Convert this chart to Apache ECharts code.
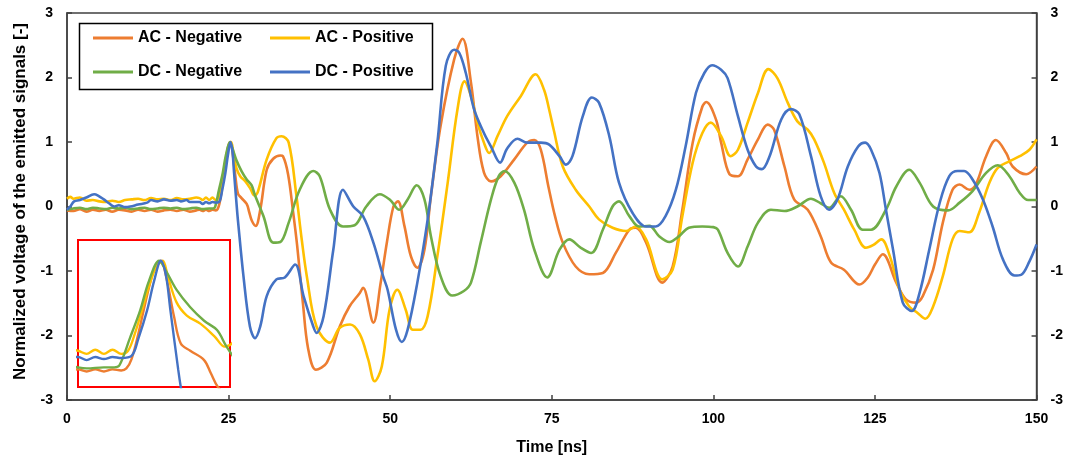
<!DOCTYPE html>
<html>
<head>
<meta charset="utf-8">
<script src="https://cdn.jsdelivr.net/npm/echarts@6/dist/echarts.min.js"></script>
<style>html,body{margin:0;padding:0;background:#fff}#c{width:1066px;height:461px}</style>
</head>
<body>
<div id="c"></div>
<script>
var seriesNames = ['AC - Negative', 'AC - Positive', 'DC - Negative', 'DC - Positive'];
var xTicks = [0, 25, 50, 75, 100, 125, 150];
var yTicks = [-3, -2, -1, 0, 1, 2, 3];

var acNegT = [0,1,2,3,4,5,6,7,8,9,10,11,12,13,14,15,16,17,18,19,20,20.5,21,21.5,22,22.5,23,23.3,23.6,24.0,24.3,24.7,25.0,25.3,25.6,26.06,26.45,27.0,27.8,28.2,28.6,29.2,29.9,30.9,31.9,33.0,33.4,34.2,35.0,35.6,36.5,37.3,38.5,40.2,42.2,43.7,45.3,45.8,47.4,48.5,49.5,50.5,51.2,52.2,53.2,54.2,55.3,56.3,57.8,59.9,61.2,62.5,63.5,64.5,65.6,67.1,69.2,71.2,72.3,73.3,74.5,75.5,76.7,78.7,80.8,82.9,84.9,87.0,88.0,89.6,92.1,93.7,95.2,96.8,98.3,98.9,100.4,101.2,102.5,103.8,105.3,106.9,108.4,109.4,111.0,112.5,114.6,116.6,118.2,120.2,122.6,123.9,125.0,126.2,128.3,129.8,131.4,132.4,134.0,135.5,137.0,138.1,139.6,140.6,142.2,143.7,145.3,146.3,148.4,150];
var acNegV = [-0.06,-0.07,-0.04,-0.08,-0.05,-0.07,-0.05,-0.08,-0.05,-0.06,-0.08,-0.05,-0.07,-0.05,-0.08,-0.06,-0.05,-0.07,-0.05,-0.08,-0.06,-0.05,-0.07,-0.05,-0.07,-0.05,-0.06,-0.04,0.05,0.3,0.52,0.8,0.95,1.0,0.85,0.46,0.2,0.13,0.04,-0.09,-0.22,-0.30,-0.05,0.57,0.74,0.79,0.78,0.5,-0.1,-0.6,-1.5,-2.2,-2.53,-2.42,-1.86,-1.55,-1.34,-1.26,-1.80,-1.2,-0.55,0.0,0.08,-0.3,-0.77,-0.95,-0.67,0.16,1.25,2.28,2.60,1.92,1.09,0.53,0.39,0.47,0.73,0.99,1.03,0.88,0.3,-0.15,-0.56,-0.93,-1.05,-1.03,-0.72,-0.36,-0.33,-0.56,-1.18,-0.93,-0.05,0.99,1.55,1.62,1.35,0.99,0.50,0.47,0.73,1.04,1.27,1.19,0.62,0.11,-0.05,-0.46,-0.87,-0.98,-1.21,-1.1,-0.9,-0.74,-1.18,-1.44,-1.49,-1.39,-0.98,-0.25,0.26,0.34,0.26,0.34,0.78,1.03,0.83,0.62,0.50,0.62];

var acPosT = [0,0.5,1,2,3,4,5,6,7,8,9,10,11,12,13,14,15,16,17,18,19,20,20.5,21,21.5,22,22.5,23,23.4,23.8,24.2,24.6,25.0,25.4,25.7,26.2,26.8,27.6,28.4,29.0,29.5,30.9,32.4,33.2,34.3,35.5,36.3,37.1,38.6,40.7,42.2,43.8,45.3,46.6,47.6,48.7,49.9,51.1,52.4,53.5,54.7,55.8,57.3,58.9,60.4,61.5,62.5,63.5,64.5,65.3,66.6,68.1,70.2,72.5,73.8,74.6,75.3,76.7,78.7,80.8,82.3,84.4,86.5,88.0,89.6,92.1,93.7,95.2,96.8,98.3,99.6,101.2,102.7,103.8,105.3,106.9,108.5,109.9,111.5,113.0,114.6,115.6,117.1,118.7,120.2,121.8,123.6,124.7,126.0,127.3,128.8,130.3,131.6,132.8,134.0,135.5,137.0,138.1,139.6,141.1,142.7,144.0,145.8,147.4,148.9,150];
var acPosV = [0.12,0.15,0.12,0.14,0.09,0.1,0.08,0.07,0.09,0.07,0.1,0.11,0.12,0.1,0.13,0.11,0.12,0.1,0.13,0.11,0.12,0.14,0.13,0.1,0.14,0.1,0.14,0.1,0.13,0.3,0.52,0.75,0.93,1.0,0.85,0.6,0.47,0.39,0.27,0.17,0.22,0.73,1.06,1.09,0.99,0.16,-0.5,-1.08,-1.86,-2.11,-1.88,-1.83,-1.98,-2.37,-2.71,-2.48,-1.60,-1.29,-1.60,-1.91,-1.91,-1.70,-0.77,0.37,1.50,1.94,1.71,1.30,0.99,0.83,1.09,1.40,1.71,2.05,1.81,1.50,1.19,0.62,0.26,0.0,-0.20,-0.33,-0.38,-0.31,-0.51,-1.13,-0.98,-0.15,0.68,1.14,1.30,1.09,0.78,0.88,1.30,1.76,2.13,1.99,1.61,1.32,1.19,1.04,0.68,0.21,-0.05,-0.36,-0.64,-0.6,-0.51,-0.77,-1.29,-1.55,-1.65,-1.74,-1.55,-1.08,-0.51,-0.38,-0.40,-0.10,0.37,0.60,0.70,0.78,0.88,1.04];

var dcNegT = [0,1,2,3,4,5,6,7,8,9,10,11,12,13,14,15,16,17,18,19,20,21,22,22.6,22.9,23.5,24.1,24.6,25.2,25.6,26.2,27.0,27.8,28.55,29.1,30.4,31.9,33.0,34.3,36.0,38.1,39.1,40.7,42.7,44.5,46.3,48.4,50.0,51.4,52.7,54.1,55.3,56.3,57.8,59.6,61.4,62.5,64.0,65.6,66.8,67.7,69.2,70.7,72.3,74.3,76.2,77.7,79.5,81.1,82.9,84.4,85.4,87.0,88.5,90.1,91.6,93.2,94.7,96.2,98.3,100.0,100.7,102.2,103.8,105.3,106.9,108.9,111.0,113.0,115.1,116.6,117.9,119.7,121.3,123.1,124.4,126.7,128.3,130.3,131.9,134.0,136.3,138.1,140.1,142.2,144.0,145.8,147.4,148.7,150];
var dcNegV = [-0.05,-0.03,-0.02,-0.04,-0.02,-0.03,-0.04,-0.02,-0.03,-0.02,-0.04,-0.03,-0.02,-0.04,-0.03,-0.02,-0.03,-0.02,-0.04,-0.03,-0.02,-0.04,-0.03,-0.03,-0.01,0.25,0.52,0.8,1.0,0.9,0.72,0.55,0.42,0.33,0.17,-0.15,-0.56,-0.55,-0.25,0.26,0.55,0.47,-0.05,-0.31,-0.29,0.0,0.19,0.1,-0.05,0.11,0.33,0.11,-0.46,-1.08,-1.38,-1.31,-1.18,-0.56,0.11,0.47,0.55,0.37,-0.05,-0.67,-1.1,-0.67,-0.51,-0.64,-0.72,-0.36,0.0,0.08,-0.15,-0.31,-0.30,-0.46,-0.55,-0.46,-0.33,-0.31,-0.32,-0.36,-0.72,-0.93,-0.62,-0.25,-0.05,-0.07,0.0,0.12,0.05,-0.02,0.16,-0.05,-0.36,-0.36,-0.05,0.31,0.57,0.37,0.0,-0.06,0.06,0.24,0.52,0.64,0.47,0.21,0.10,0.10];

var dcPosT = [0,0.5,1.1,2,3,4.2,4.8,5.7,6.5,7.3,8,9,9.8,11,12.4,13,14,15,16,17,17.6,18.5,19,20.1,20.5,21,21.5,22,22.5,23,23.6,24.0,24.5,24.9,25.3,25.6,25.85,26.3,26.45,27.3,28.3,29.1,29.9,30.9,32.4,33.7,35.3,36.6,38.1,38.6,39.7,41.2,42.7,44.3,45.8,47.4,48.9,49.6,50.9,51.8,52.7,54.2,55.8,57.3,58.6,59.9,60.7,61.7,63.0,64.5,65.6,67.0,68.1,69.7,71.2,73.3,74.6,76.2,77.2,78.2,79.8,81.2,82.3,83.9,85.4,87.5,89.6,91.1,92.6,94.2,95.7,97.3,98.6,99.8,101.2,102.2,103.8,105.3,106.6,107.5,108.7,110.5,112.0,113.3,115.1,116.6,117.9,119.2,120.8,122.4,123.5,124.4,125.7,126.7,127.8,129.3,130.7,131.9,133.4,135.0,136.5,137.8,138.8,140.1,141.7,143.2,144.8,146.6,147.6,148.9,150];
var dcPosV = [-0.05,0.0,0.08,0.1,0.14,0.19,0.17,0.11,0.05,0.0,0.02,-0.01,0.0,0.03,0.06,0.1,0.08,0.11,0.09,0.1,0.08,0.1,0.07,0.07,0.07,0.04,0.07,0.05,0.07,0.06,0.08,0.25,0.52,0.8,1.0,0.85,0.52,-0.05,-0.22,-1.08,-1.86,-2.04,-1.86,-1.39,-1.13,-1.10,-0.90,-1.39,-1.86,-1.96,-1.70,-0.67,0.26,0.0,-0.15,-0.56,-1.08,-1.29,-1.91,-2.10,-1.91,-1.18,-0.20,0.99,2.18,2.43,2.38,2.07,1.50,1.14,0.93,0.68,0.90,1.05,0.99,0.99,0.96,0.78,0.65,0.78,1.40,1.69,1.61,1.09,0.37,-0.10,-0.31,-0.31,-0.15,0.26,0.93,1.76,2.07,2.19,2.12,1.99,1.40,0.88,0.62,0.58,0.78,1.35,1.51,1.43,0.78,0.16,-0.05,0.11,0.62,0.93,0.99,0.88,0.52,-0.05,-0.67,-1.49,-1.62,-1.34,-0.67,0.05,0.47,0.55,0.55,0.42,0.11,-0.31,-0.82,-1.07,-1.06,-0.85,-0.59];

var colors = ['#ED7D31', '#FFC000', '#70AD47', '#4472C4'];

function pairs(t, v) { return t.map(function (x, i) { return [x, v[i]]; }); }
var dataSets = [pairs(acNegT, acNegV), pairs(acPosT, acPosV), pairs(dcNegT, dcNegV), pairs(dcPosT, dcPosV)];

var FONT = 'Liberation Sans, Arial, sans-serif';
var axisCol = '#404040';

var series = [];
dataSets.forEach(function (d, i) {
  series.push({
    name: seriesNames[i], type: 'line', xAxisIndex: 0, yAxisIndex: 0,
    data: d, showSymbol: false, smooth: 0.35,
    lineStyle: { color: colors[i], width: 2.6 }, itemStyle: { color: colors[i] },
    z: 3
  });
});
dataSets.forEach(function (d, i) {
  series.push({
    name: seriesNames[i], type: 'line', xAxisIndex: 1, yAxisIndex: 2,
    data: d, showSymbol: false, smooth: 0.35, clip: true,
    lineStyle: { color: colors[i], width: 2.4 }, itemStyle: { color: colors[i] },
    z: 4
  });
});

var legendText = { fontFamily: FONT, fontWeight: 'bold', fontSize: 16, color: '#000' };

var option = {
  animation: false,
  backgroundColor: '#fff',
  grid: [
    { left: 67, right: 28, top: 13, bottom: 61, show: true, borderColor: axisCol, borderWidth: 1.5 },
    { left: 78, top: 240, width: 152, height: 147, show: true, borderColor: '#FF0000', borderWidth: 2, backgroundColor: '#fff', z: 3 }
  ],
  legend: [
    { data: [seriesNames[0], seriesNames[2]], orient: 'vertical', left: 93, top: 30, padding: 0, itemWidth: 40, itemHeight: 3, itemGap: 18, icon: 'rect', textStyle: legendText },
    { data: [seriesNames[1], seriesNames[3]], orient: 'vertical', left: 270, top: 30, padding: 0, itemWidth: 40, itemHeight: 3, itemGap: 18, icon: 'rect', textStyle: legendText }
  ],
  xAxis: [
    {
      type: 'value', gridIndex: 0, min: xTicks[0], max: xTicks[xTicks.length - 1], interval: 25,
      name: 'Time [ns]', nameLocation: 'middle', nameGap: 40,
      nameTextStyle: { fontFamily: FONT, fontWeight: 'bold', fontSize: 16, color: '#000' },
      axisLine: { onZero: false, lineStyle: { color: axisCol, width: 1.5 } },
      axisTick: { inside: true, length: 5, lineStyle: { color: axisCol, width: 1.5 } },
      axisLabel: { margin: 12, fontFamily: FONT, fontWeight: 'bold', fontSize: 14, color: '#000' },
      splitLine: { show: false }
    },
    { type: 'value', gridIndex: 1, min: 20.5, max: 29.3, show: false, splitLine: { show: false } }
  ],
  yAxis: [
    {
      type: 'value', gridIndex: 0, min: yTicks[0], max: yTicks[yTicks.length - 1], interval: 1,
      name: 'Normalized voltage of the emitted signals [-]', nameLocation: 'middle', nameGap: 38,
      nameTextStyle: { fontFamily: FONT, fontWeight: 'bold', fontSize: 17, color: '#000', padding: [0, 0, 0, 10] },
      axisLine: { show: true, onZero: false, lineStyle: { color: axisCol, width: 1.5 } },
      axisTick: { show: true, inside: true, length: 5, lineStyle: { color: axisCol, width: 1.5 } },
      axisLabel: { margin: 14, fontFamily: FONT, fontWeight: 'bold', fontSize: 14, color: '#000' },
      splitLine: { show: false }
    },
    {
      type: 'value', gridIndex: 0, position: 'right', min: yTicks[0], max: yTicks[yTicks.length - 1], interval: 1,
      axisLine: { show: true, onZero: false, lineStyle: { color: axisCol, width: 1.5 } },
      axisTick: { show: true, inside: true, length: 5, lineStyle: { color: axisCol, width: 1.5 } },
      axisLabel: { margin: 14, fontFamily: FONT, fontWeight: 'bold', fontSize: 14, color: '#000' },
      splitLine: { show: false }
    },
    { type: 'value', gridIndex: 1, min: -0.22, max: 1.2, show: false, splitLine: { show: false } }
  ],
  graphic: [
    { type: 'rect', left: 77, top: 21, shape: { x: 0, y: 0, width: 353, height: 66 }, style: { fill: 'none', stroke: '#000', lineWidth: 1.5 }, z: 10, silent: true }
  ],
  series: series
};

var chart = echarts.init(document.getElementById('c'), null, { renderer: 'canvas' });
chart.setOption(option);
</script>
</body>
</html>
